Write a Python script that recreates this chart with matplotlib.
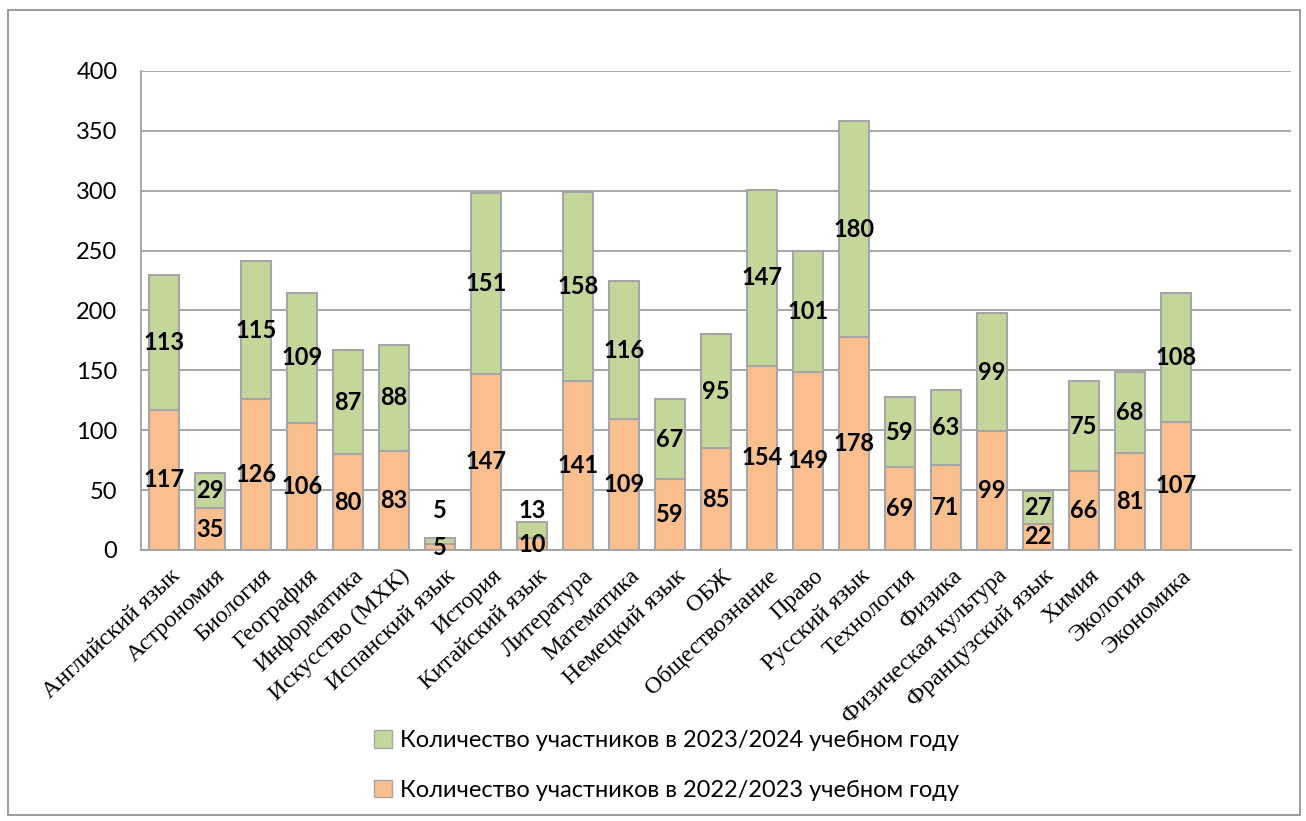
import matplotlib
matplotlib.use("Agg")
import matplotlib.pyplot as plt
from matplotlib.patches import Rectangle, Patch
import numpy as np

categories = ["Английский язык", "Астрономия", "Биология", "География", "Информатика",
              "Искусство (МХК)", "Испанский язык", "История", "Китайский язык", "Литература",
              "Математика", "Немецкий язык", "ОБЖ", "Обществознание", "Право", "Русский язык",
              "Технология", "Физика", "Физическая культура", "Французский язык", "Химия",
              "Экология", "Экономика"]
v2022 = [117, 35, 126, 106, 80, 83, 5, 147, 10, 141, 109, 59, 85, 154, 149, 178, 69, 71, 99, 22, 66, 81, 107]
v2023 = [113, 29, 115, 109, 87, 88, 5, 151, 13, 158, 116, 67, 95, 147, 101, 180, 59, 63, 99, 27, 75, 68, 108]
label_2022 = "Количество участников в 2022/2023 учебном году"
label_2023 = "Количество участников в 2023/2024 учебном году"
yticks = [0, 50, 100, 150, 200, 250, 300, 350, 400]

c_orange = "#F9BF8F"
c_green = "#C4D79B"
c_edge = "#A6A6A6"
c_grid = "#A0A0A0"

W, H = 1306, 821
fig = plt.figure(figsize=(W/100, H/100), dpi=100)
fig.patches.append(Rectangle((8/W, 1-815/H), (1300-8)/W, (815-10)/H, transform=fig.transFigure,
                             fill=False, edgecolor="#8C8C8C", linewidth=1.2))
ax = fig.add_axes([141/W, 1-550/H, (1291-141)/W, (550-71)/H])

x = np.arange(len(categories))
ax.bar(x, v2022, width=0.67, color=c_orange, edgecolor=c_edge, linewidth=1.5, zorder=3)
ax.bar(x, v2023, width=0.67, bottom=v2022, color=c_green, edgecolor=c_edge, linewidth=1.5, zorder=3)

ax.set_xlim(-0.5, 24.5)
ax.set_ylim(0, 400)
ax.set_yticks(yticks)
ax.set_yticklabels([str(t) for t in yticks], fontfamily="Lato", fontsize=17)
ax.tick_params(axis="y", length=0, pad=17)
ax.tick_params(axis="x", length=0, pad=11)
ax.grid(axis="y", color=c_grid, linewidth=1.3, zorder=0)
for s in ["top", "right"]:
    ax.spines[s].set_visible(False)
for s in ["left", "bottom"]:
    ax.spines[s].set_color(c_grid)
    ax.spines[s].set_linewidth(1.3)

ax.set_xticks(x + 0.12)
ax.set_xticklabels(categories, rotation=43, ha="right", rotation_mode="anchor",
                   fontfamily="Liberation Serif", fontsize=17.3)

lab_kw = dict(ha="center", va="center", fontfamily="Lato", fontweight="bold", fontsize=17, zorder=5)
for i, (a, b) in enumerate(zip(v2022, v2023)):
    y1 = a / 2
    y2 = a + b / 2
    if b < 15:
        y2 = max(y2, 33)
    ax.text(i, y1, str(a), **lab_kw)
    ax.text(i, y2, str(b), **lab_kw)

handles = [Patch(facecolor=c_green, edgecolor=c_edge, label=label_2023),
           Patch(facecolor=c_orange, edgecolor=c_edge, label=label_2022)]
fig.legend(handles=handles, loc="upper left", bbox_to_anchor=(353/W, 1-709/H), frameon=False,
           prop={"family": "Lato", "size": 17}, handlelength=0.75, handleheight=0.75,
           handletextpad=0.35, labelspacing=1.2)

fig.savefig("out.png", dpi=100)
